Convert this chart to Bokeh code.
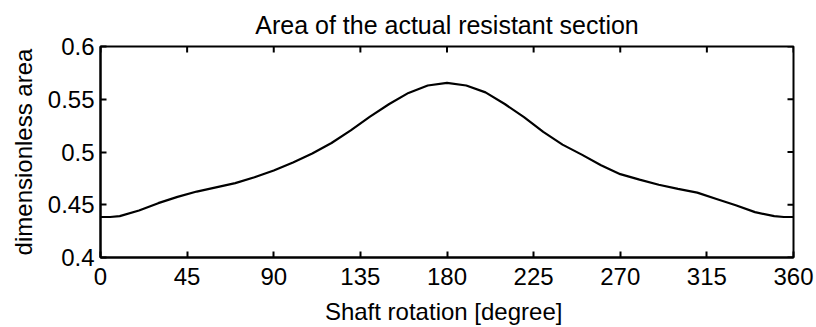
import math
from bokeh.plotting import figure
from bokeh.models import FixedTicker, Range1d
from bokeh.embed import file_html
from bokeh.resources import INLINE

# Data
rotation_deg = [0, 5, 10, 20, 30, 40, 50, 60, 70, 80, 90, 100, 110, 120, 130, 140, 150,
                160, 170, 180, 190, 200, 210, 220, 230, 240, 250, 260, 270, 280, 290,
                300, 310, 320, 330, 340, 350, 355, 360]
area = [0.4384, 0.4384, 0.4392, 0.4445, 0.4515, 0.4575, 0.4625, 0.4665, 0.4705, 0.4760,
        0.4825, 0.4900, 0.4985, 0.5085, 0.5205, 0.5335, 0.5455, 0.5560, 0.5630, 0.5655,
        0.5630, 0.5565, 0.5455, 0.5330, 0.5190, 0.5070, 0.4975, 0.4875, 0.4790, 0.4738,
        0.4690, 0.4650, 0.4615, 0.4555, 0.4495, 0.4430, 0.4392, 0.4384, 0.4384]

x_ticks = [0, 45, 90, 135, 180, 225, 270, 315, 360]
y_ticks = [0.4, 0.45, 0.5, 0.55, 0.6]
y_tick_labels = ["0.4", "0.45", "0.5", "0.55", "0.6"]
x_min, x_max = 0, 360
y_min, y_max = 0.4, 0.6

title_text = "Area of the actual resistant section"
x_label = "Shaft rotation  [degree]"
y_label = "dimensionless area"

FONT = "Liberation Sans"
FS = "24px"
TICK_LEN = 6

p = figure(width=816, height=327, output_backend="svg", toolbar_location=None,
           x_range=Range1d(x_min, x_max), y_range=Range1d(y_min, y_max),
           min_border_left=100, min_border_right=23, min_border_top=44,
           min_border_bottom=68)

p.line(rotation_deg, area, line_color="black", line_width=2.2)

# inward ticks on the top and right edges (MATLAB box style)
p.ray(x=x_ticks, y=[y_max] * len(x_ticks), length=TICK_LEN, length_units="screen",
      angle=-math.pi / 2, line_color="black", line_width=2)
p.ray(x=[x_max] * len(y_ticks), y=y_ticks, length=TICK_LEN, length_units="screen",
      angle=math.pi, line_color="black", line_width=2)

p.grid.visible = False
p.outline_line_color = "black"
p.outline_line_width = 2

p.title.text = title_text
p.title.align = "center"
p.title.text_font = FONT
p.title.text_font_size = "25px"
p.title.text_font_style = "normal"
p.title.text_color = "black"
p.title.standoff = 16

def style(ax):
    ax.axis_line_color = "black"
    ax.axis_line_width = 2
    ax.major_tick_in = TICK_LEN
    ax.major_tick_out = 0
    ax.major_tick_line_width = 2
    ax.major_tick_line_color = "black"
    ax.minor_tick_line_color = None
    ax.major_label_text_font = FONT
    ax.major_label_text_color = "black"
    ax.major_label_text_font_size = FS
    ax.axis_label_text_font = FONT
    ax.axis_label_text_font_size = FS
    ax.axis_label_text_font_style = "normal"
    ax.axis_label_text_color = "black"

xa = p.xaxis[0]
xa.ticker = FixedTicker(ticks=x_ticks)
style(xa)
xa.major_label_standoff = 10
xa.axis_label = x_label
xa.axis_label_standoff = 10

ya = p.yaxis[0]
ya.ticker = FixedTicker(ticks=y_ticks)
ya.major_label_overrides = {t: s for t, s in zip(y_ticks, y_tick_labels)}
style(ya)
ya.major_label_standoff = 6
ya.axis_label = y_label
ya.axis_label_standoff = 8

open("out.html", "w").write(file_html(p, INLINE))
